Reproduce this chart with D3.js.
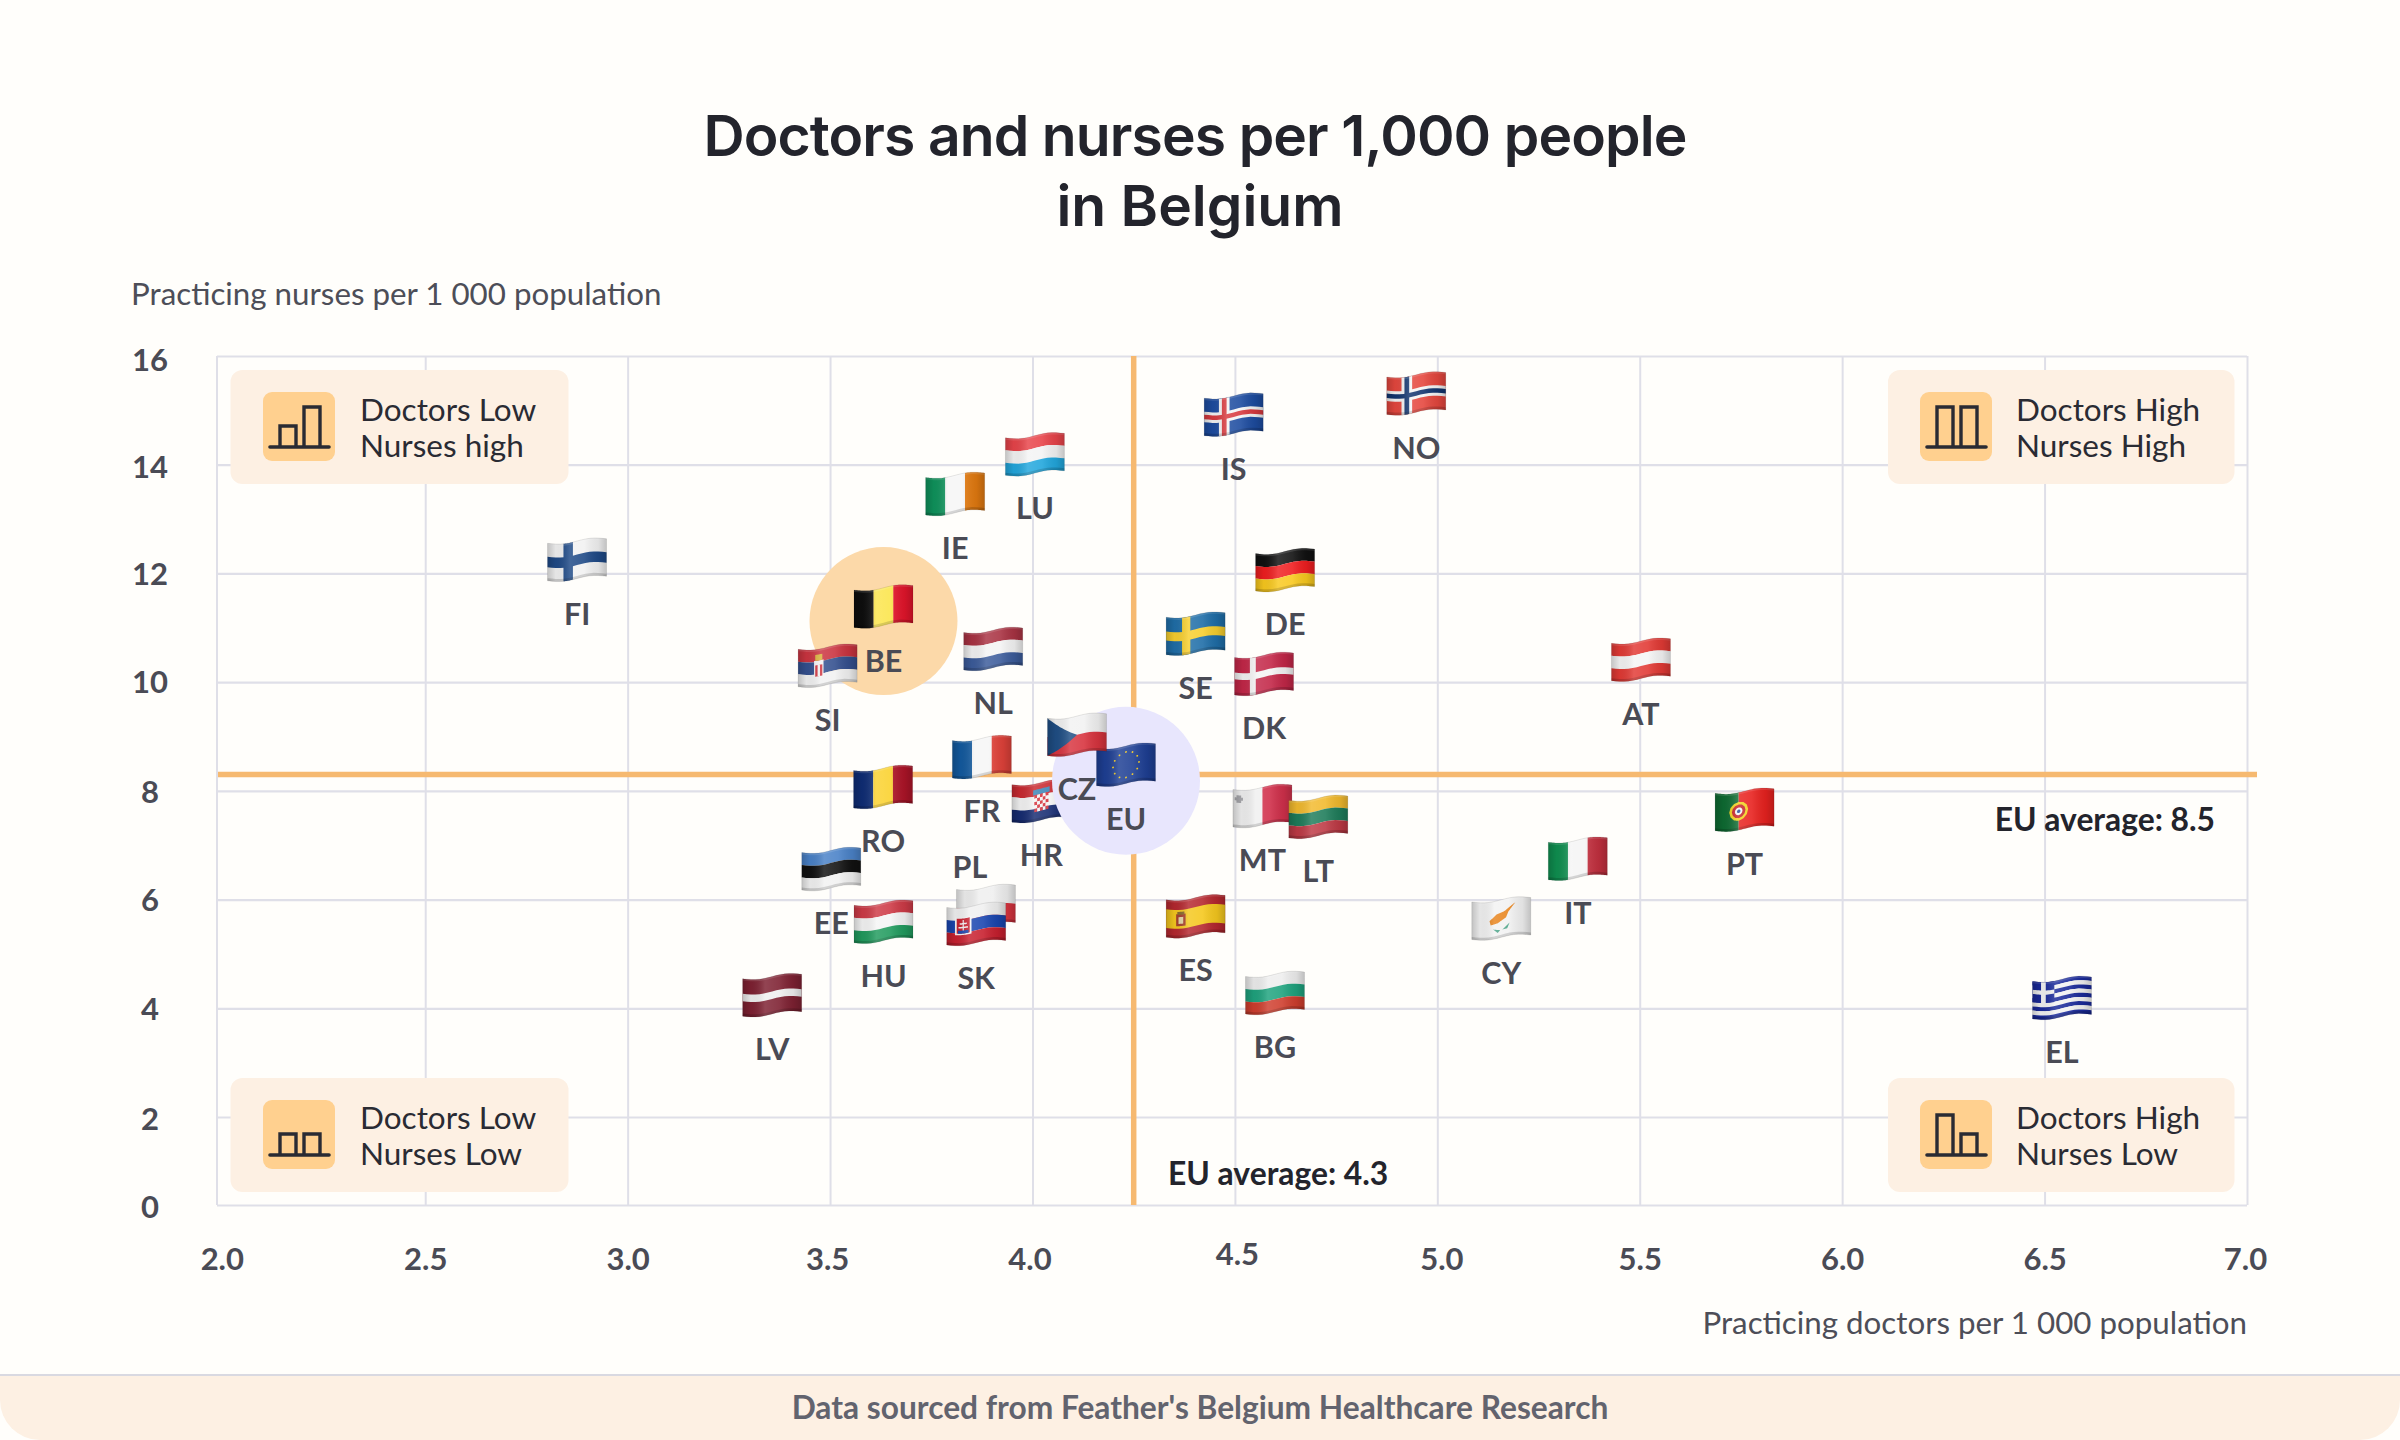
<!DOCTYPE html>
<html>
<head>
<meta charset="utf-8">
<script src="https://cdn.jsdelivr.net/npm/d3@7"></script>
<style>
  body { margin: 0; background: #fffefb; }
  text { font-family: Lato, sans-serif; }
</style>
</head>
<body>
<script>
// values, HR goes first because it sits under the EU circle
const countries = ["HR", "FI", "IE", "LU", "NL", "BE", "SI", "EU", "CZ", "FR", "RO", "EE", "HU", "PL", "SK", "LV",
    "ES", "BG", "MT", "LT", "DE", "SE", "DK", "IS", "NO", "AT", "PT", "IT", "CY", "EL"];
const doctors = [4.022, 2.875, 3.809, 4.006, 3.903, 3.632, 3.494, 4.231, 4.110, 3.875, 3.631, 3.503, 3.632, 3.885, 3.861, 3.357,
    4.403, 4.599, 4.568, 4.706, 4.624, 4.403, 4.572, 4.497, 4.948, 5.503, 5.759, 5.347, 5.158, 6.543];
const nurses = [7.81, 12.25, 13.46, 14.19, 10.61, 11.39, 10.30, 8.48, 9.03, 8.62, 8.07, 6.56, 5.59, 5.88, 5.55, 4.24,
    5.69, 4.28, 7.72, 7.52, 12.06, 10.89, 10.15, 14.92, 15.31, 10.41, 7.65, 6.75, 5.65, 4.19];

const xTicks = [2, 2.5, 3, 3.5, 4, 4.5, 5, 5.5, 6, 6.5, 7];
const yTicks = [0, 2, 4, 6, 8, 10, 12, 14, 16];

// the average lines sit here on the plot, the captions say 4.3 and 8.5
const euDoctorsLine = 4.25;
const euNursesLine = 8.3;
const euDoctorsLabel = "EU average: 4.3";
const euNursesLabel = "EU average: 8.5";

const quadrantLines = [["Doctors Low", "Nurses high"], ["Doctors High", "Nurses High"],
    ["Doctors Low", "Nurses Low"], ["Doctors High", "Nurses Low"]];
const quadrantBars = [["short", "tall"], ["tall", "tall"], ["short", "short"], ["tall", "short"]];

const width = 2400, height = 1440;
const plot = {left: 217, right: 2247, top: 356, bottom: 1205};

// gridlines do not match the frame at the low end, 2.0 is right of the frame and 0 is above where 2-unit steps would land
const x = d3.scaleLinear().domain([2, 7]).range([222.8, plot.right]);
const y = d3.scaleLinear().domain([0, 2, 16]).range([plot.bottom, 1117, plot.top]);

const svg = d3.select("body").append("svg")
    .attr("width", width)
    .attr("height", height)
    .style("display", "block");

svg.append("rect").attr("width", width).attr("height", height).attr("fill", "#fffefb");

// shading gradient shared by all flags
const shade = svg.append("defs").append("linearGradient").attr("id", "flagShade");
[[0, "#000", 0.2], [0.14, "#000", 0.05], [0.38, "#fff", 0.16], [0.62, "#fff", 0.1], [0.86, "#000", 0.07], [1, "#000", 0.2]]
    .forEach(function (s) {
        shade.append("stop").attr("offset", s[0]).attr("stop-color", s[1]).attr("stop-opacity", s[2]);
    });

// title
const title = svg.append("text")
    .attr("text-anchor", "middle")
    .attr("fill", "#23242c")
    .style("font-family", "Inter")
    .style("font-weight", 600)
    .style("font-size", "57px");
title.append("tspan").attr("x", 1195).attr("y", 156).style("letter-spacing", "-0.9px")
    .text("Doctors and nurses per 1,000 people");
title.append("tspan").attr("x", 1200).attr("y", 226).text("in Belgium");

// axis captions
svg.append("text").attr("x", 131).attr("y", 305)
    .attr("fill", "#4d4e58").style("font-size", "31.3px")
    .text("Practicing nurses per 1 000 population");
svg.append("text").attr("x", plot.right).attr("y", 1334).attr("text-anchor", "end")
    .attr("fill", "#4d4e58").style("font-size", "31.3px")
    .text("Practicing doctors per 1 000 population");

// axes, the tick lines double as the grid
const xAxis = svg.append("g")
    .attr("transform", "translate(0," + plot.bottom + ")")
    .call(d3.axisBottom(x).tickValues(xTicks).tickFormat(d3.format(".1f"))
        .tickSize(-(plot.bottom - plot.top)).tickPadding(0));
const yAxis = svg.append("g")
    .attr("transform", "translate(" + plot.left + ",0)")
    .call(d3.axisLeft(y).tickValues(yTicks).tickSize(-(plot.right - plot.left)).tickPadding(0));

xAxis.select(".domain").remove();
yAxis.select(".domain").remove();
xAxis.selectAll(".tick line").attr("stroke", "#dfdfe8").attr("stroke-width", 2)
    .filter(function (d) { return d === 2; }).remove();
yAxis.selectAll(".tick line").attr("stroke", "#dfdfe8").attr("stroke-width", 2.2);
svg.append("line").attr("x1", plot.left).attr("x2", plot.left).attr("y1", plot.top).attr("y2", plot.bottom)
    .attr("stroke", "#dfdfe8").attr("stroke-width", 2);

// the 4.5 label is set a little higher in the original, others drift by a pixel or two
const xLabelShift = {2: [-1, 0], 4.5: [2, -5], 5: [4, 0], 4: [-3, 0], 3.5: [-3, 0], 7: [-2, 0]};
const yLabelShift = {16: 2.5, 14: 0.5, 12: -1, 10: -1.5, 8: 0, 6: -1, 4: -1, 2: 0.5, 0: 0.5};
xAxis.selectAll(".tick text")
    .attr("fill", "#4a4b55")
    .attr("y", 0).attr("dy", 0)
    .attr("text-anchor", "middle")
    .attr("dominant-baseline", "central")
    .attr("transform", function (d) {
        const s = xLabelShift[d] || [0, 0];
        return "translate(" + s[0] + "," + (52.5 + s[1]) + ")";
    })
    .style("font-size", "31px").style("font-weight", 700);
yAxis.selectAll(".tick text")
    .attr("fill", "#4a4b55")
    .attr("x", 0).attr("dy", 0)
    .attr("text-anchor", "middle")
    .attr("dominant-baseline", "central")
    .attr("transform", function (d) { return "translate(-67," + yLabelShift[d] + ")"; })
    .style("font-size", "31px").style("font-weight", 700);

// EU average lines
svg.append("line")
    .attr("x1", x(euDoctorsLine)).attr("x2", x(euDoctorsLine))
    .attr("y1", plot.top).attr("y2", plot.bottom)
    .attr("stroke", "#f6b970").attr("stroke-width", 5.5);
svg.append("line")
    .attr("x1", plot.left + 1).attr("x2", 2257)
    .attr("y1", y(euNursesLine)).attr("y2", y(euNursesLine))
    .attr("stroke", "#f6b970").attr("stroke-width", 5.5);
svg.append("text").attr("x", 2215).attr("y", 831).attr("text-anchor", "end")
    .attr("fill", "#23242c").style("font-size", "31.8px").style("font-weight", 700)
    .text(euNursesLabel);
svg.append("text").attr("x", 1168).attr("y", 1185)
    .attr("fill", "#23242c").style("font-size", "31.8px").style("font-weight", 700)
    .text(euDoctorsLabel);

// quadrant legends
const boxes = [{x: 230.5, w: 338, y: 370, iconX: 263, textX: 360},
    {x: 1888, w: 346.5, y: 370, iconX: 1920, textX: 2016},
    {x: 230.5, w: 338, y: 1078, iconX: 263, textX: 360},
    {x: 1888, w: 346.5, y: 1078, iconX: 1920, textX: 2016}];
const barTop = {tall: 37, short: 56};

boxes.forEach(function (b, i) {
    const g = svg.append("g");
    g.append("rect").attr("x", b.x).attr("y", b.y).attr("width", b.w).attr("height", 114)
        .attr("rx", 12).attr("fill", "#fdf0e3");
    g.append("rect").attr("x", b.iconX).attr("y", b.y + 22).attr("width", 72).attr("height", 69)
        .attr("rx", 9).attr("fill", "#ffd08f");
    g.append("line")
        .attr("x1", b.iconX + 7).attr("x2", b.iconX + 66)
        .attr("y1", b.y + 77).attr("y2", b.y + 77)
        .attr("stroke", "#2a2b33").attr("stroke-width", 3.6).attr("stroke-linecap", "round");
    quadrantBars[i].forEach(function (kind, j) {
        const bx = b.iconX + 17 + j * 24;
        g.append("path")
            .attr("d", d3.line()([[bx, b.y + 77], [bx, b.y + barTop[kind]], [bx + 16, b.y + barTop[kind]], [bx + 16, b.y + 77]]))
            .attr("fill", "none").attr("stroke", "#2a2b33").attr("stroke-width", 3.4);
    });
    quadrantLines[i].forEach(function (line, j) {
        g.append("text").attr("x", b.textX).attr("y", b.y + 51 + j * 36)
            .attr("fill", "#2a2b33").style("font-size", "31.5px")
            .text(line);
    });
});

// flags: small drawings in flag space (u, v from 0 to 1), bent along a wave
const flagW = 59, flagH = 37.5;
const bend = function (p) {
    return [(p[0] - 0.5) * flagW,
        (p[1] - 0.5) * flagH + 2.2 - 4.5 * p[0] + 1.8 * Math.sin(2 * Math.PI * p[0])];
};
const lineGen = d3.line();
function bentPath(pts) {
    const dense = [];
    pts.forEach(function (p, i) {
        const q = pts[(i + 1) % pts.length];
        d3.range(14).forEach(function (k) {
            dense.push([p[0] + (q[0] - p[0]) * k / 14, p[1] + (q[1] - p[1]) * k / 14]);
        });
    });
    return lineGen(dense.map(bend)) + "Z";
}
const rect = function (u0, v0, u1, v1, fill) {
    return {pts: [[u0, v0], [u1, v0], [u1, v1], [u0, v1]], fill: fill};
};
const disc = function (cu, cv, r, fill) {
    return {
        pts: d3.range(12).map(function (k) {
            const a = k / 12 * 2 * Math.PI;
            return [cu + r * Math.cos(a), cv + r * flagW / flagH * Math.sin(a)];
        }), fill: fill
    };
};
const hBands = function (cols) {
    return cols.map(function (c, i) { return rect(0, i / cols.length, 1, (i + 1) / cols.length, c); });
};
const vBands = function (cols) {
    return cols.map(function (c, i) { return rect(i / cols.length, 0, (i + 1) / cols.length, 1, c); });
};
const cross = function (base, arm, u0, u1, v0, v1) {
    return [rect(0, 0, 1, 1, base), rect(u0, 0, u1, 1, arm), rect(0, v0, 1, v1, arm)];
};

const flagDesigns = {
    BE: vBands(["#0e0e0e", "#fbe54c", "#e3152b"]),
    NL: hBands(["#a93343", "#f4f4f4", "#3c5c9b"]),
    SI: hBands(["#cb3440", "#34508f", "#f2f2f2"]).concat([
        rect(0.27, 0.3, 0.43, 0.76, "#f4f4f4"), rect(0.29, 0.42, 0.41, 0.72, "#d0343f"),
        rect(0.33, 0.42, 0.37, 0.72, "#f4f4f4"), rect(0.29, 0.14, 0.41, 0.3, "#d8b23a")]),
    CZ: [rect(0, 0, 1, 0.5, "#f2f2f2"), rect(0, 0.5, 1, 1, "#d8343f"),
        {pts: [[0, 0], [0.5, 0.5], [0, 1]], fill: "#1f4e85"}],
    EU: [rect(0, 0, 1, 1, "#1e3f94")].concat(d3.range(12).map(function (k) {
        const a = k / 12 * 2 * Math.PI;
        return disc(0.5 + 0.22 * Math.cos(a), 0.5 + 0.34 * Math.sin(a), 0.016, "#f2c81e");
    })),
    FR: vBands(["#135a9f", "#f6f6f6", "#e1423a"]),
    RO: vBands(["#0f2d75", "#fbd22f", "#ae1428"]),
    HR: hBands(["#c92a30", "#f4f4f4", "#172c72"]).concat(
        [rect(0.36, 0.16, 0.64, 0.3, "#3d86b8")],
        d3.range(25).map(function (k) {
            const c = k % 5, r = Math.floor(k / 5);
            return rect(0.38 + c * 0.048, 0.3 + r * 0.09, 0.428 + c * 0.048, 0.39 + r * 0.09,
                (c + r) % 2 ? "#f4f4f4" : "#d5303a");
        })),
    EE: hBands(["#4a82c8", "#111111", "#f2f2f2"]),
    HU: hBands(["#ce3b47", "#f5f5f5", "#219b5e"]),
    PL: hBands(["#efefef", "#d8343f"]),
    SK: hBands(["#f0f0f0", "#1a46b0", "#c8202f"]).concat([
        rect(0.14, 0.25, 0.42, 0.72, "#f4f4f4"), rect(0.17, 0.28, 0.39, 0.68, "#c8202f"),
        rect(0.27, 0.32, 0.29, 0.62, "#f4f4f4"), rect(0.22, 0.4, 0.34, 0.44, "#f4f4f4"),
        rect(0.2, 0.5, 0.36, 0.54, "#f4f4f4"), rect(0.19, 0.6, 0.37, 0.68, "#1a46b0")]),
    LV: [rect(0, 0, 1, 1, "#7e2132"), rect(0, 0.4, 1, 0.6, "#f0f0f0")],
    ES: [rect(0, 0, 1, 1, "#b5282f"), rect(0, 0.25, 1, 0.75, "#f5c81e"),
        rect(0.17, 0.36, 0.33, 0.68, "#a8402c"), rect(0.21, 0.44, 0.29, 0.62, "#e3d7a8"), rect(0.19, 0.3, 0.31, 0.38, "#8a6a2a")],
    BG: hBands(["#eeeeee", "#1fa37e", "#cf3e2e"]),
    MT: [rect(0, 0, 0.5, 1, "#f0f0f0"), rect(0.5, 0, 1, 1, "#d1304b"),
        rect(0.06, 0.14, 0.14, 0.34, "#a9a9ad"), rect(0.03, 0.2, 0.17, 0.28, "#a9a9ad")],
    LT: hBands(["#f2ba2e", "#1f7d5b", "#be3a45"]),
    DE: hBands(["#111111", "#f01e20", "#f9c91e"]),
    SE: cross("#1f6ea8", "#f8cf2e", 0.27, 0.41, 0.38, 0.62),
    DK: cross("#c32748", "#f4f4f4", 0.26, 0.36, 0.4, 0.58),
    IS: cross("#1d4ca0", "#f4f4f4", 0.25, 0.43, 0.36, 0.64)
        .concat([rect(0.3, 0, 0.38, 1, "#d83a3f"), rect(0, 0.44, 1, 0.56, "#d83a3f")]),
    NO: cross("#e5473e", "#f4f4f4", 0.25, 0.43, 0.36, 0.64)
        .concat([rect(0.3, 0, 0.38, 1, "#12356f"), rect(0, 0.44, 1, 0.56, "#12356f")]),
    AT: hBands(["#e23a35", "#f5f5f5", "#e23a35"]),
    PT: [rect(0, 0, 0.4, 1, "#0e6b32"), rect(0.4, 0, 1, 1, "#e8221f"),
        disc(0.4, 0.5, 0.16, "#f1d21f"), disc(0.4, 0.5, 0.115, "#c8242a"), disc(0.4, 0.5, 0.065, "#f4f4f4"), disc(0.4, 0.5, 0.03, "#2a4f9e")],
    IT: vBands(["#0f8f50", "#f5f5f5", "#c3303f"]),
    CY: [rect(0, 0, 1, 1, "#f2f2f2"),
        {pts: [[0.3, 0.5], [0.42, 0.36], [0.56, 0.32], [0.74, 0.14], [0.62, 0.36], [0.58, 0.5], [0.44, 0.6], [0.32, 0.62]], fill: "#e8851f"},
        {pts: [[0.36, 0.74], [0.48, 0.8], [0.44, 0.86]], fill: "#4ea58a"},
        {pts: [[0.64, 0.66], [0.52, 0.8], [0.6, 0.8]], fill: "#4ea58a"}],
    LU: hBands(["#e8444a", "#f4f4f4", "#22a7dd"]),
    IE: vBands(["#0f935c", "#f6f6f6", "#e27a10"]),
    FI: cross("#f2f2f2", "#1f4a87", 0.27, 0.43, 0.36, 0.64),
    EL: hBands(["#1a2a9a", "#f2f2f2", "#1a2a9a", "#f2f2f2", "#1a2a9a", "#f2f2f2", "#1a2a9a", "#f2f2f2", "#1a2a9a"]).concat([
        rect(0, 0, 0.37, 5 / 9, "#1a2a9a"), rect(0.145, 0, 0.225, 5 / 9, "#f2f2f2"), rect(0, 2 / 9, 0.37, 3 / 9, "#f2f2f2")])
};

function drawFlag(sel, code) {
    const g = sel.append("g")
        .attr("transform", "translate(" + x(doctors[countries.indexOf(code)]) + "," + y(nurses[countries.indexOf(code)]) + ")");
    flagDesigns[code].forEach(function (s) {
        g.append("path").attr("d", bentPath(s.pts)).attr("fill", s.fill);
    });
    const outline = [[0, 0], [1, 0], [1, 1], [0, 1]];
    g.append("path").attr("d", bentPath([[0, 0.93], [1, 0.93], [1, 1], [0, 1]])).attr("fill", "#000").attr("fill-opacity", 0.16);
    g.append("path").attr("d", bentPath([[0, 0], [1, 0], [1, 0.05], [0, 0.05]])).attr("fill", "#fff").attr("fill-opacity", 0.12);
    g.append("path").attr("d", bentPath(outline)).attr("fill", "url(#flagShade)")
        .attr("stroke", "#000").attr("stroke-opacity", 0.12).attr("stroke-width", 0.8);
}

// the order matters: HR flag, the two circles, the other flags, labels on top
const marks = svg.append("g");
drawFlag(marks, "HR");

const highlights = [{code: "BE", fill: "#fcd9a9", dy: 14.5}, {code: "EU", fill: "#e8e6fd", dy: 16}];
marks.selectAll("circle")
    .data(highlights)
    .join("circle")
    .attr("cx", function (d) { return x(doctors[countries.indexOf(d.code)]); })
    .attr("cy", function (d) { return y(nurses[countries.indexOf(d.code)]) + d.dy; })
    .attr("r", 74)
    .attr("fill", function (d) { return d.fill; });

countries.filter(function (c) { return c !== "HR"; }).forEach(function (c) {
    drawFlag(marks, c);
});

// labels sit under the flag, PL is the one placed above
const labelShift = {PL: [-16, -40]};
svg.append("g").selectAll("text")
    .data(countries)
    .join("text")
    .attr("x", function (d, i) { return x(doctors[i]) + (labelShift[d] ? labelShift[d][0] : 0); })
    .attr("y", function (d, i) { return y(nurses[i]) + (labelShift[d] ? labelShift[d][1] : 53); })
    .attr("text-anchor", "middle")
    .attr("dominant-baseline", "central")
    .attr("fill", "#4a4b55")
    .style("font-size", "30.5px")
    .style("font-weight", 700)
    .text(function (d) { return d; });

// footer band
const bandR = 40, bandTop = 1375;
const band = d3.path();
band.moveTo(0, bandTop);
band.lineTo(width, bandTop);
band.lineTo(width, height - bandR);
band.arcTo(width, height, width - bandR, height, bandR);
band.lineTo(bandR, height);
band.arcTo(0, height, 0, height - bandR, bandR);
band.closePath();
svg.append("path").attr("d", band.toString()).attr("fill", "#fdf0e3");
svg.append("line").attr("x1", 0).attr("x2", width).attr("y1", bandTop).attr("y2", bandTop)
    .attr("stroke", "#d9d9e1").attr("stroke-width", 2);
svg.append("text").attr("x", 1200).attr("y", 1419).attr("text-anchor", "middle")
    .attr("fill", "#62636e").style("font-size", "31.7px").style("font-weight", 700)
    .text("Data sourced from Feather's Belgium Healthcare Research");
</script>
</body>
</html>
